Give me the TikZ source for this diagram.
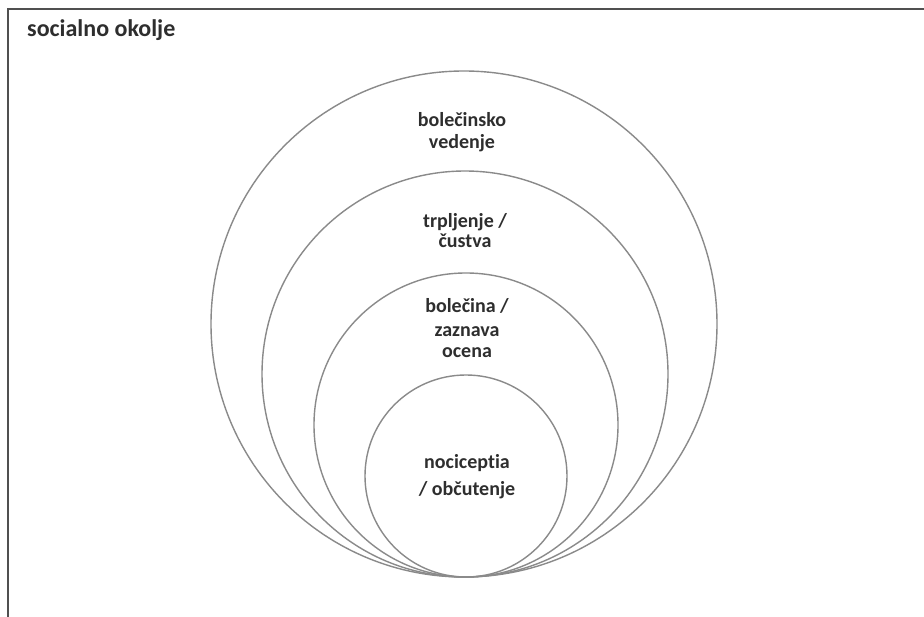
\documentclass[tikz,border=0pt]{standalone}
\usepackage{fontspec}
\setmainfont[Ligatures={NoCommon}]{Carlito}
\definecolor{framec}{HTML}{505050}
\definecolor{ringc}{HTML}{8A8A8A}
\definecolor{textc}{HTML}{2E2E2E}
\begin{document}
\begin{tikzpicture}[x=1pt,y=-1pt,
  ring/.style={circle, draw=ringc, line width=1.4pt, inner sep=0pt},
  lbl/.style={anchor=base, inner sep=0pt, text=textc, font=\bfseries\fontsize{20}{24}\selectfont},
  frameline/.style={draw=framec, line width=2pt}]
\useasboundingbox (0,0) rectangle (924,617);
\fill[white] (0,0) rectangle (924,617);
% frame (top and left edges)
\coordinate (ftr) at (924,9);
\coordinate (ftl) at (8,9);
\coordinate (fbl) at (8,617);
\draw[frameline, line cap=rect] (ftr) -- (ftl) -- (fbl);
\node[anchor=base west, inner sep=0pt, text=textc, font=\bfseries\fontsize{24}{28}\selectfont] (title) at (27,37) {socialno okolje};
% rings
\node[ring, minimum size=506pt] (r1) at (464,324) {};
\node[ring, minimum size=406pt] (r2) at (465,374) {};
\node[ring, minimum size=304pt] (r3) at (466,425) {};
\node[ring, minimum size=202pt] (r4) at (466,476) {};
% labels
\node[lbl] (a1) at (462,127) {bolečinsko};
\node[lbl] (a2) at (462,149) {vedenje};
\node[lbl] (b1) at (465,228) {trpljenje /};
\node[lbl] (b2) at (465,248) {čustva};
\node[lbl] (c1) at (467,313) {bolečina /};
\node[lbl] (c2) at (467,337) {zaznava};
\node[lbl] (c3) at (467,358) {ocena};
\node[lbl] (d1) at (467,468) {nociceptia};
\node[lbl] (d2) at (467,496) {/ občutenje};
\end{tikzpicture}
\end{document}
